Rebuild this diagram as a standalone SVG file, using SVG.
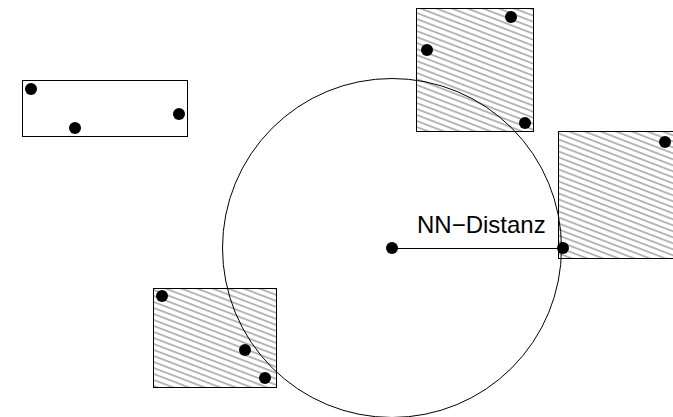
<svg xmlns="http://www.w3.org/2000/svg" width="673" height="417" viewBox="0 0 673 417">
  <defs>
    <pattern id="hatch" patternUnits="userSpaceOnUse" width="12" height="5.6" patternTransform="rotate(21)">
      <line x1="-2" y1="2.8" x2="14" y2="2.8" stroke="#4a4a4a" stroke-width="0.8"/>
    </pattern>
  </defs>
  <style>
    .box { fill: none; stroke: #000; stroke-width: 1; }
    .hbox { fill: url(#hatch); stroke: #000; stroke-width: 1; }
    .pt { fill: #000; }
    .edge { fill: none; stroke: #000; stroke-width: 1; }
    .lbl { font-family: "Liberation Sans", Arial, sans-serif; font-size: 24px; fill: #000; }
  </style>
  <rect width="673" height="417" fill="#fff"/>

  <!-- plain region with three points -->
  <g id="region-left">
    <rect class="box" x="22.5" y="80.5" width="165" height="56"/>
    <circle class="pt" cx="31" cy="89" r="6"/>
    <circle class="pt" cx="75" cy="128" r="6"/>
    <circle class="pt" cx="179" cy="114" r="6"/>
  </g>

  <!-- hatched regions intersecting the query sphere -->
  <g id="region-top">
    <rect class="hbox" x="416.5" y="8.5" width="117" height="123"/>
    <circle class="pt" cx="511" cy="17" r="6"/>
    <circle class="pt" cx="427" cy="50" r="6"/>
    <circle class="pt" cx="525" cy="123" r="6"/>
  </g>
  <g id="region-right">
    <rect class="hbox" x="558.5" y="131.5" width="130" height="127"/>
    <circle class="pt" cx="665" cy="142" r="6"/>
  </g>
  <g id="region-bottom">
    <rect class="hbox" x="153.5" y="288.5" width="123" height="99"/>
    <circle class="pt" cx="162" cy="296" r="6"/>
    <circle class="pt" cx="245" cy="350" r="6"/>
    <circle class="pt" cx="265" cy="378" r="6"/>
  </g>

  <!-- query sphere -->
  <g id="sphere">
    <circle class="edge" cx="392" cy="248" r="169.5"/>
    <circle class="pt" cx="392" cy="248" r="6"/>
  </g>

  <!-- nearest neighbour distance -->
  <g id="connectors">
    <line class="edge" x1="392" y1="248.5" x2="563" y2="248.5"/>
  </g>
  <g id="nn-point">
    <circle class="pt" cx="563" cy="248" r="6"/>
  </g>
  <text class="lbl" x="417" y="233">NN−Distanz</text>
</svg>
